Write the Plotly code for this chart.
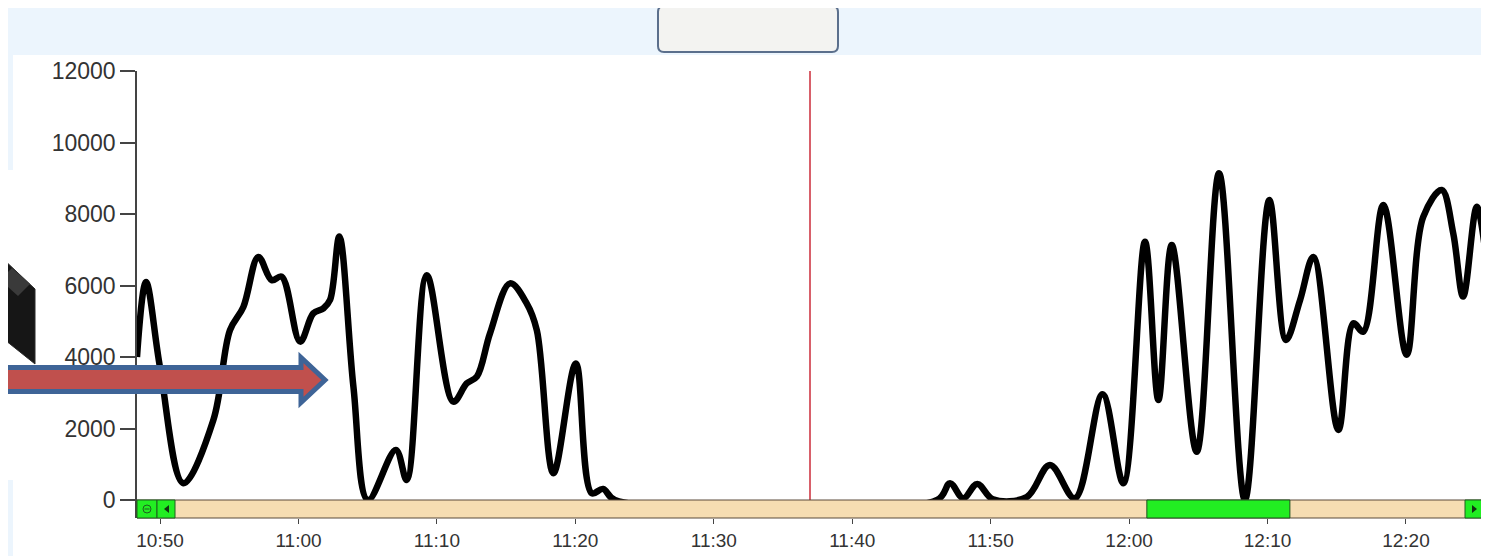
import plotly.graph_objects as go

# ---------------- data ----------------
DAY = "2015-01-01 "
times = ["10:48:20","10:48:59","10:50:00","10:51:41","10:53:51","10:55:03","10:56:01","10:57:06",
         "10:58:04","10:58:47","11:00:07","11:01:04","11:01:48","11:02:17","11:02:57","11:03:58",
         "11:05:01","11:07:02","11:07:49","11:09:16","11:11:11","11:12:09","11:12:53","11:13:50",
         "11:15:17","11:16:29","11:17:13","11:18:25","11:20:02","11:21:11","11:22:00","11:22:52",
         "11:46:08","11:47:04","11:48:01","11:49:02","11:50:10","11:52:36","11:54:17","11:56:05",
         "11:58:05","11:59:35","12:01:09","12:02:07","12:03:05","12:04:53","12:06:30","12:08:22",
         "12:10:08","12:11:20","12:12:21","12:13:19","12:15:07","12:16:12","12:16:55","12:18:22",
         "12:20:03","12:21:15","12:22:35","12:23:25","12:24:08","12:25:07","12:25:43"]
values = [4000,6100,3700,470,2240,4750,5400,6800,6150,6250,4430,5220,5360,5600,7370,3170,
          0,1400,560,6290,2750,3260,3450,4660,6060,5500,4750,750,3820,190,310,0,
          0,470,50,450,20,80,980,50,2960,470,7225,2800,7130,1350,9140,0,
          8390,4475,5590,6800,1960,4940,4710,8250,4060,7920,8670,7460,5690,8200,7000]
y_ticks = [0, 2000, 4000, 6000, 8000, 10000, 12000]
view_start, view_end = "10:48:20", "12:25:34"
cursor_time = "11:36:57"
window_start, window_end = "12:01:17", "12:11:37"

# ---------------- layout helpers (page pixel -> paper) ----------------
OFF = 8                      # page body margin of the html page
FW, FH = 1489 - OFF, 556 - OFF
PL, PR, PT, PB = 137, 1483, 71, 518   # plot area in page pixels
PW, PH = PR - PL, PB - PT
def px(X): return (X - PL) / PW
def py(Y): return (PB - Y) / PH

fig = go.Figure()
fig.add_trace(go.Scatter(
    x=[DAY + t for t in times], y=values, mode="lines",
    line=dict(color="black", width=6.5, shape="spline", smoothing=1.0),
    hoverinfo="skip", showlegend=False))

shapes = []
# page decorations
shapes.append(dict(type="rect", xref="paper", yref="paper", x0=px(0), x1=px(1489), y0=py(55), y1=py(5),
                   fillcolor="#ECF5FD", line_width=0, layer="below"))
shapes.append(dict(type="rect", xref="paper", yref="paper", x0=px(0), x1=px(13), y0=py(170), y1=py(55),
                   fillcolor="#ECF5FD", line_width=0, layer="below"))
shapes.append(dict(type="rect", xref="paper", yref="paper", x0=px(0), x1=px(13), y0=py(556), y1=py(480),
                   fillcolor="#ECF5FD", line_width=0, layer="below"))
shapes.append(dict(type="rect", xref="paper", yref="paper", x0=px(1484), x1=px(1489), y0=py(556), y1=py(55),
                   fillcolor="#EEF6FD", line_width=0, layer="below"))
# top button (rounded rectangle)
bx0, bx1, by0, by1, r = 658, 838, 6, 52, 6
def P(X, Y): return f"{px(X):.5f},{py(Y):.5f}"
btn = (f"M {P(bx0+r,by0)} L {P(bx1-r,by0)} Q {P(bx1,by0)} {P(bx1,by0+r)} "
       f"L {P(bx1,by1-r)} Q {P(bx1,by1)} {P(bx1-r,by1)} L {P(bx0+r,by1)} "
       f"Q {P(bx0,by1)} {P(bx0,by1-r)} L {P(bx0,by0+r)} Q {P(bx0,by0)} {P(bx0+r,by0)} Z")
shapes.append(dict(type="path", xref="paper", yref="paper", path=btn,
                   fillcolor="#F3F3F1", line=dict(color="#5B6F8C", width=2)))
# dark object on the left
obj = f"M {P(0,256)} L {P(35,289)} L {P(35,364)} L {P(0,336)} Z"
shapes.append(dict(type="path", xref="paper", yref="paper", path=obj,
                   fillcolor="#161616", line=dict(color="#2a2a2a", width=1)))
obj2 = f"M {P(0,280)} L {P(12,268)} L {P(30,284)} L {P(18,296)} Z"
shapes.append(dict(type="path", xref="paper", yref="paper", path=obj2,
                   fillcolor="#3a3a3a", line_width=0))
# red cursor line
shapes.append(dict(type="line", xref="x", yref="y", x0=DAY + cursor_time, x1=DAY + cursor_time,
                   y0=0, y1=12000, line=dict(color="#D8606A", width=2)))
# scrollbar
shapes.append(dict(type="rect", xref="paper", yref="paper", x0=0, x1=1, y0=0, y1=py(500),
                   fillcolor="#F6DDB2", line=dict(color="#5a4a3a", width=1)))
shapes.append(dict(type="rect", xref="x", yref="paper", x0=DAY + window_start, x1=DAY + window_end,
                   y0=0, y1=py(500), fillcolor="#22EE22", line=dict(color="#1f4f1f", width=1)))
for a, b in [(137, 157), (157, 175), (1465, 1483)]:
    shapes.append(dict(type="rect", xref="paper", yref="paper", x0=px(a), x1=px(b), y0=0, y1=py(500),
                       fillcolor="#22EE22", line=dict(color="#1f5f1f", width=1)))
shapes.append(dict(type="circle", xref="paper", yref="paper", x0=px(143), x1=px(151), y0=py(513), y1=py(505),
                   line=dict(color="#1f5f1f", width=1)))
shapes.append(dict(type="line", xref="paper", yref="paper", x0=px(144.5), x1=px(149.5), y0=py(509), y1=py(509),
                   line=dict(color="#1f5f1f", width=1)))
shapes.append(dict(type="path", xref="paper", yref="paper", path=f"M {P(169,505)} L {P(169,513)} L {P(164,509)} Z",
                   fillcolor="#113311", line_width=0))
shapes.append(dict(type="path", xref="paper", yref="paper", path=f"M {P(1472,505)} L {P(1472,513)} L {P(1477,509)} Z",
                   fillcolor="#113311", line_width=0))
# arrow
arrow = (f"M {P(-5,367.5)} L {P(301,367.5)} L {P(301,357.5)} L {P(325,380)} "
         f"L {P(301,402.5)} L {P(301,391.5)} L {P(-5,391.5)} Z")
shapes.append(dict(type="path", xref="paper", yref="paper", path=arrow,
                   fillcolor="#C0504D", line=dict(color="#3E6497", width=5)))

fig.update_layout(
    width=FW, height=FH,
    margin=dict(l=PL - OFF, r=1489 - PR, t=PT - OFF, b=556 - PB, autoexpand=False),
    paper_bgcolor="#FFFFFF", plot_bgcolor="#FFFFFF",
    font=dict(family="Liberation Sans, Arial, sans-serif", color="#333333"),
    showlegend=False,
    shapes=shapes,
    xaxis=dict(range=[DAY + view_start, DAY + view_end], type="date",
               tick0=DAY + "10:50:00", dtick=600000, tickformat="%H:%M",
               ticks="outside", ticklen=5, tickcolor="#444", tickwidth=1,
               showgrid=False, zeroline=False, showline=False,
               tickfont=dict(size=19, color="#333333")),
    yaxis=dict(range=[-503.5, 12000], tickvals=y_ticks, tickformat="d",
               ticks="outside", ticklen=15, tickcolor="#444", tickwidth=1.5,
               showline=True, linecolor="#444", linewidth=1.5,
               showgrid=False, zeroline=False,
               tickfont=dict(size=23, color="#333333")),
)

fig.write_html("out.html")
